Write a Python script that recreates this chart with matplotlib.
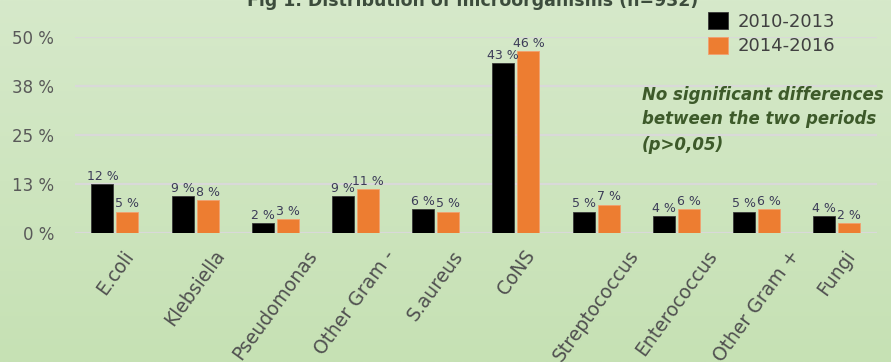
import matplotlib
matplotlib.use("Agg")
import matplotlib.pyplot as plt
import numpy as np

categories = ["E.coli", "Klebsiella", "Pseudomonas", "Other Gram -", "S.aureus",
              "CoNS", "Streptococcus", "Enterococcus", "Other Gram +", "Fungi"]
p2010 = [12.4, 9.4, 2.4, 9.4, 6.0, 43.4, 5.4, 4.3, 5.4, 4.3]
p2014 = [5.4, 8.3, 3.4, 11.2, 5.4, 46.3, 7.2, 6.0, 6.0, 2.4]
labels_2010 = ["12 %", "9 %", "2 %", "9 %", "6 %", "43 %", "5 %", "4 %", "5 %", "4 %"]
labels_2014 = ["5 %", "8 %", "3 %", "11 %", "5 %", "46 %", "7 %", "6 %", "6 %", "2 %"]
yticks = [0, 12.5, 25, 37.5, 50]
ytick_labels = ["0 %", "13 %", "25 %", "38 %", "50 %"]

plt.rcParams['font.family'] = ['DejaVu Sans']

fig = plt.figure(figsize=(8.91, 3.62), dpi=100)

# green gradient background
bg = fig.add_axes([0, 0, 1, 1], zorder=-10)
top = np.array([214, 233, 202]) / 255
bottom = np.array([198, 225, 180]) / 255
t = np.linspace(0, 1, 256)[:, None]
grad = top * (1 - t) + bottom * t
bg.imshow(grad[:, None, :].repeat(2, axis=1), aspect='auto', extent=[0, 1, 0, 1])
bg.axis('off')

ax = fig.add_axes([0.084, 0.357, 0.900, 0.541])
ax.set_facecolor('none')

x = np.arange(len(categories))
w = 0.275
gap = 0.0375
b1 = ax.bar(x - (w + gap) / 2, p2010, w, color='black', edgecolor='#383838',
            linewidth=0.6, label='2010-2013', zorder=3)
b2 = ax.bar(x + (w + gap) / 2, p2014, w, color='#ED7D31', edgecolor='#F2A070',
            linewidth=0.6, label='2014-2016', zorder=3)

for bars, labs in ((b1, labels_2010), (b2, labels_2014)):
    for bar, lab in zip(bars, labs):
        ax.text(bar.get_x() + bar.get_width() / 2, bar.get_height() + 0.3, lab,
                ha='center', va='bottom', fontsize=9, color='#3c3c58')

ax.set_xlim(-0.5, len(categories) - 0.5)
ax.set_ylim(0, 50)
ax.set_yticks(yticks)
ax.set_yticklabels(ytick_labels, fontsize=12, color='#595959')
ax.yaxis.grid(True, color='#d9d9d9', linewidth=1.6, zorder=0)
ax.set_axisbelow(True)
ax.tick_params(axis='y', length=0, pad=15)
ax.tick_params(axis='x', length=0, pad=10)
for s in ax.spines.values():
    s.set_visible(False)

ax.set_xticks(x)
ax.set_xticklabels(categories, rotation=54, ha='center', va='top',
                   fontsize=13.5, color='#505050')

fig.text(0.53, 1 - 6 / 362, "Fig 1. Distribution of microorganisms (n=932)",
         ha='center', va='baseline', fontsize=12.5, fontweight='bold',
         color='#3c4c3c')

leg = ax.legend(loc='upper left', bbox_to_anchor=(708 / 891, 1 - 12 / 362),
                bbox_transform=fig.transFigure, frameon=False, borderpad=0,
                borderaxespad=0, fontsize=13, handlelength=1.1, handleheight=1.1,
                handletextpad=0.55, labelspacing=0.32, labelcolor='#404040')

fig.text(642 / 891, 1 - 119.5 / 362,
         "No significant differences\nbetween the two periods\n(p>0,05)",
         ha='left', va='center', fontsize=12, style='italic', fontweight='bold',
         color='#3d5a2a', linespacing=1.5)

fig.savefig("out.png", dpi=100)
